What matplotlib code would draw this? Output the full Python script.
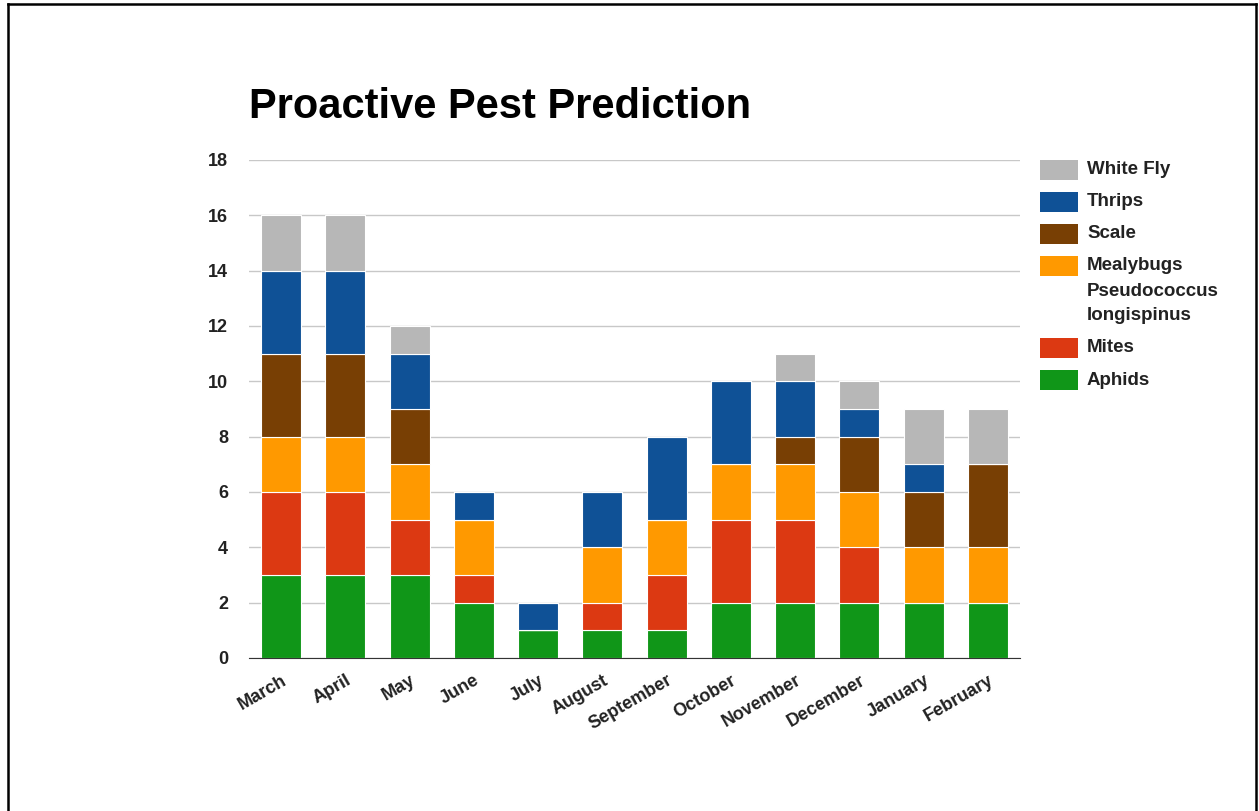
import numpy as np
import matplotlib.pyplot as plt
from matplotlib.patches import Rectangle
from matplotlib.lines import Line2D

plt.rcParams['font.family'] = ['Liberation Sans', 'DejaVu Sans']

months = ['March', 'April', 'May', 'June', 'July', 'August', 'September',
          'October', 'November', 'December', 'January', 'February']
aphids = [3, 3, 3, 2, 1, 1, 1, 2, 2, 2, 2, 2]
mites = [3, 3, 2, 1, 0, 1, 2, 3, 3, 2, 0, 0]
mealybugs = [2, 2, 2, 2, 0, 2, 2, 2, 2, 2, 2, 2]
scale = [3, 3, 2, 0, 0, 0, 0, 0, 1, 2, 2, 3]
thrips = [3, 3, 2, 1, 1, 2, 3, 3, 2, 1, 1, 0]
white_fly = [2, 2, 1, 0, 0, 0, 0, 0, 1, 1, 2, 2]

series = [
    ('Aphids', aphids, '#109618'),
    ('Mites', mites, '#dc3912'),
    ('Mealybugs\nPseudococcus\nlongispinus', mealybugs, '#ff9900'),
    ('Scale', scale, '#783f04'),
    ('Thrips', thrips, '#0f5196'),
    ('White Fly', white_fly, '#b7b7b7'),
]

W, H = 1259, 811
fig = plt.figure(figsize=(W / 100, H / 100), dpi=100)
ax = fig.add_axes([249 / W, 1 - 658 / H, 771 / W, 498 / H])

x = np.arange(len(months))
bottom = np.zeros(len(months))
for name, vals, col in series:
    ax.bar(x, vals, 0.62, bottom=bottom, color=col, edgecolor='white',
           linewidth=0.8, zorder=3)
    bottom += np.array(vals)

ax.set_xlim(-0.5, 11.5)
ax.set_ylim(0, 18)
ax.set_yticks(range(0, 19, 2))
ax.yaxis.grid(True, color='#c8c8c8', linewidth=1, zorder=0)
for s in ['top', 'right', 'left']:
    ax.spines[s].set_visible(False)
ax.spines['bottom'].set_color('#333333')
ax.spines['bottom'].set_zorder(4)
ax.tick_params(length=0)
ax.tick_params(axis='y', pad=15)
ax.tick_params(axis='x', pad=10)
ax.set_xticks(x)
ax.set_xticklabels(months, rotation=30, ha='right', rotation_mode='anchor',
                   fontsize=13, fontweight='bold', color='#222222')
for lbl in ax.get_yticklabels():
    lbl.set_fontsize(13)
    lbl.set_fontweight('bold')
    lbl.set_color('#222222')

fig.text(249 / W, 1 - 107 / H, 'Proactive Pest Prediction', fontsize=30,
         fontweight='bold', color='black', ha='left', va='center')

# legend, drawn by hand so the swatch sits on the first line of a label
y = 170
for name, _, col in series[::-1]:
    fig.add_artist(Rectangle((1040 / W, 1 - (y + 10) / H), 38 / W, 20 / H,
                             transform=fig.transFigure, facecolor=col,
                             edgecolor='none'))
    for i, line in enumerate(name.split('\n')):
        fig.text(1087 / W, 1 - (y + 25 * i) / H, line, fontsize=13.5,
                 fontweight='bold', color='#222222', ha='left', va='center')
    y += 32 + 25 * name.count('\n')

# page frame
fig.add_artist(Line2D([8 / W, 8 / W], [0, 1 - 4 / H], color='black', lw=1.8))
fig.add_artist(Line2D([8 / W, 1256 / W], [1 - 4 / H, 1 - 4 / H], color='black', lw=1.8))
fig.add_artist(Line2D([1256 / W, 1256 / W], [0, 1 - 4 / H], color='black', lw=1.8))

fig.savefig('out.png', dpi=100)
